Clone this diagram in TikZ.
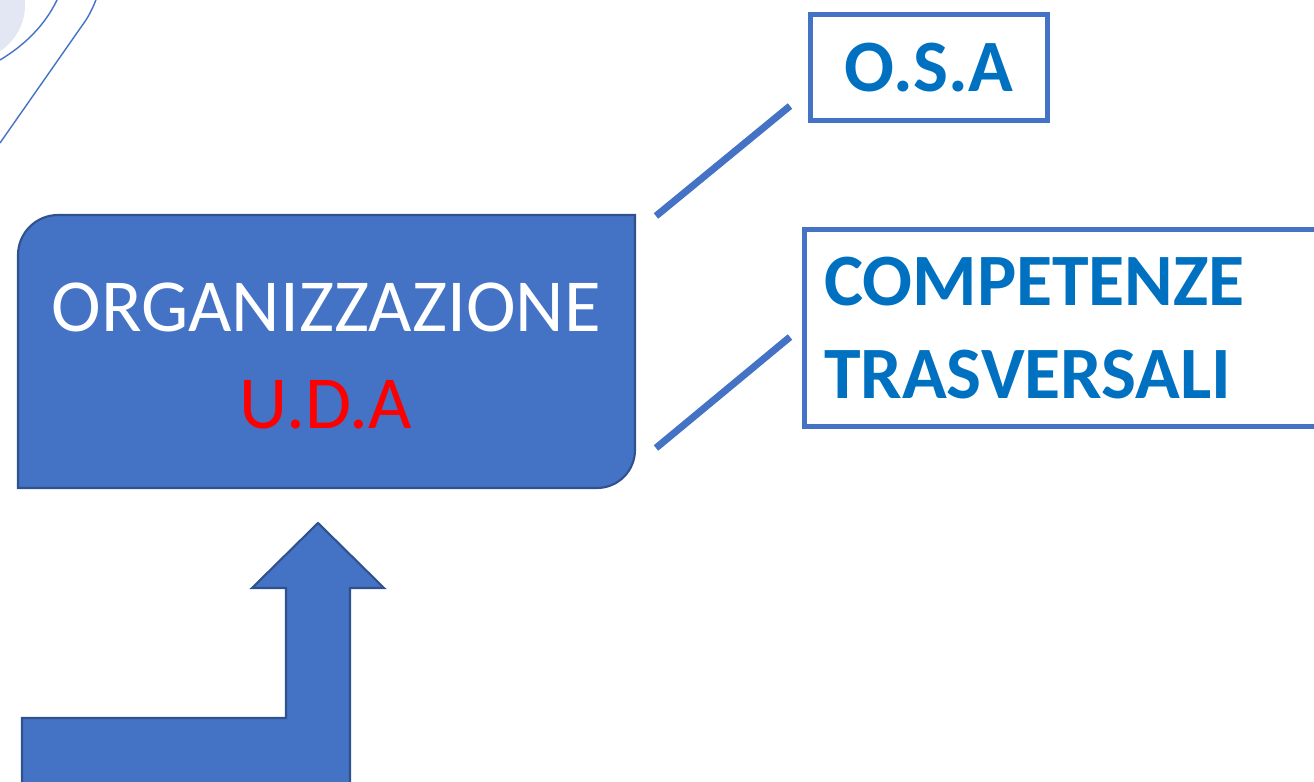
\documentclass[tikz,border=0pt]{standalone}
\usepackage{fontspec}
\setmainfont{Carlito}
\definecolor{udablue}{HTML}{4472C4}
\definecolor{udaedge}{HTML}{2F528F}
\definecolor{txtblue}{HTML}{0070C0}
\definecolor{udalav}{HTML}{E3E7F3}
\begin{document}
\begin{tikzpicture}[x=0.01cm, y=-0.01cm,
    link/.style={udablue, line width=2pt},
    frame/.style={draw=udablue, line width=1.4pt, inner sep=0pt, outer sep=0pt},
    blockfill/.style={fill=udablue, draw=udaedge, line width=0.6pt, line join=miter},
    deco/.style={udablue, line width=0.4pt}]
  \useasboundingbox (0,0) rectangle (1314,782);
  \clip (0,0) rectangle (1314,782);
  \fill[udalav] (-30,5) circle [radius=0.55cm];
  \draw[deco] (57,0) .. controls (45,25) and (25,45) .. (0,60);
  \draw[deco, rounded corners=4] (96,0) -- (93,10) -- (0,143);
  \draw[blockfill] (18,488) -- (18,255) .. controls (18,233) and (36,215) .. (58,215)
                   -- (635,215) -- (635,450) .. controls (635,471) and (618,488) .. (597,488) -- cycle;
  \node[white, align=center, font=\fontsize{21.3}{27.6}\selectfont] (uda) at (326,356)
       {ORGANIZZAZIONE\\\textcolor{red}{U.D.A}};
  \node[frame, minimum width=2.37cm, minimum height=1.06cm, text=txtblue,
        font=\fontsize{21}{25}\selectfont\bfseries] (osa) at (929,67.5) {O.S.A};
  \node[frame, anchor=west, minimum height=1.97cm, text width=5.6cm, align=left,
        inner xsep=0.195cm, text=txtblue, font=\fontsize{21}{26.2}\selectfont\bfseries]
       (comp) at (804.5,328) {COMPETENZE\\TRASVERSALI};
  \coordinate (osafoot) at (656,216);
  \coordinate (osatip) at (790,106);
  \coordinate (compfoot) at (656,448);
  \coordinate (comptip) at (790,337);
  \draw[link] (osafoot) -- (osatip);
  \draw[link] (compfoot) -- (comptip);
  \draw[blockfill] (22,795) -- (22,718) -- (286,718) -- (286,588) -- (252,588) -- (318,523)
                   -- (384,588) -- (350,588) -- (350,795) -- cycle;
\end{tikzpicture}
\end{document}
